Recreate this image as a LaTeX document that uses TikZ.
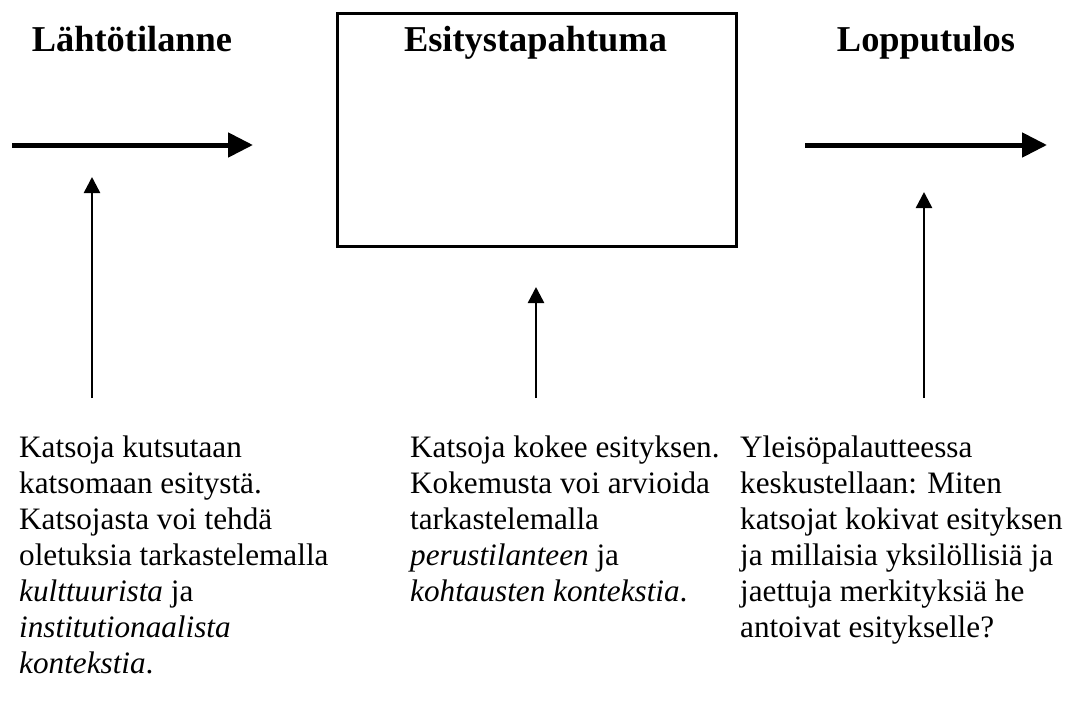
\documentclass[tikz,border=0pt]{standalone}
\usepackage{fontspec}
\setmainfont{Liberation Serif}
\usetikzlibrary{arrows.meta}
\begin{document}
\begin{tikzpicture}[x=1pt,y=-1pt,
  title/.style={font=\fontsize{36.4}{42}\selectfont\bfseries, inner sep=0pt, anchor=base},
  body/.style={font=\fontsize{31.2}{36}\selectfont, align=left, anchor=north west, inner sep=0pt},
  bigarrow/.style={line width=5pt, -{Triangle[length=25pt,width=24pt]}},
  smallarrow/.style={line width=2.5pt, -{Triangle[length=16pt,width=16pt]}}]
\useasboundingbox (0,0) rectangle (1083,702);
\node[title] (t1) at (132,51) {Lähtötilanne};
\node[title] (t2) at (535.5,51) {Esitystapahtuma};
\node[title] (t3) at (926,51) {Lopputulos};
\node[draw, line width=2.5pt, minimum width=399pt, minimum height=233pt, anchor=north west, inner sep=0pt] (box) at (336,12) {};
\coordinate (a1s) at (12,145); \coordinate (a1e) at (253,145);
\coordinate (a2s) at (805,145); \coordinate (a2e) at (1047,145);
\draw[bigarrow] (a1s) -- (a1e);
\draw[bigarrow] (a2s) -- (a2e);
\coordinate (v1s) at (92,398); \coordinate (v1e) at (92,177);
\coordinate (v2s) at (536,398); \coordinate (v2e) at (536,287);
\coordinate (v3s) at (924,398); \coordinate (v3e) at (924,192);
\draw[smallarrow] (v1s) -- (v1e);
\draw[smallarrow] (v2s) -- (v2e);
\draw[smallarrow] (v3s) -- (v3e);
\node[body] (b1) at (19,435.7) {Katsoja kutsutaan\\katsomaan esitystä.\\Katsojasta voi tehdä\\oletuksia tarkastelemalla\\\textit{kulttuurista} ja\\\textit{institutionaalista}\\\textit{kontekstia}.};
\node[body] (b2) at (410,435.7) {Katsoja kokee esityksen.\\Kokemusta voi arvioida\\tarkastelemalla\\\textit{perustilanteen} ja\\\textit{kohtausten kontekstia}.};
\node[body] (b3) at (740,435.7) {Yleisöpalautteessa\\keskustellaan: Miten\\katsojat kokivat esityksen\\ja millaisia yksilöllisiä ja\\jaettuja merkityksiä he\\antoivat esitykselle?};
\end{tikzpicture}
\end{document}
